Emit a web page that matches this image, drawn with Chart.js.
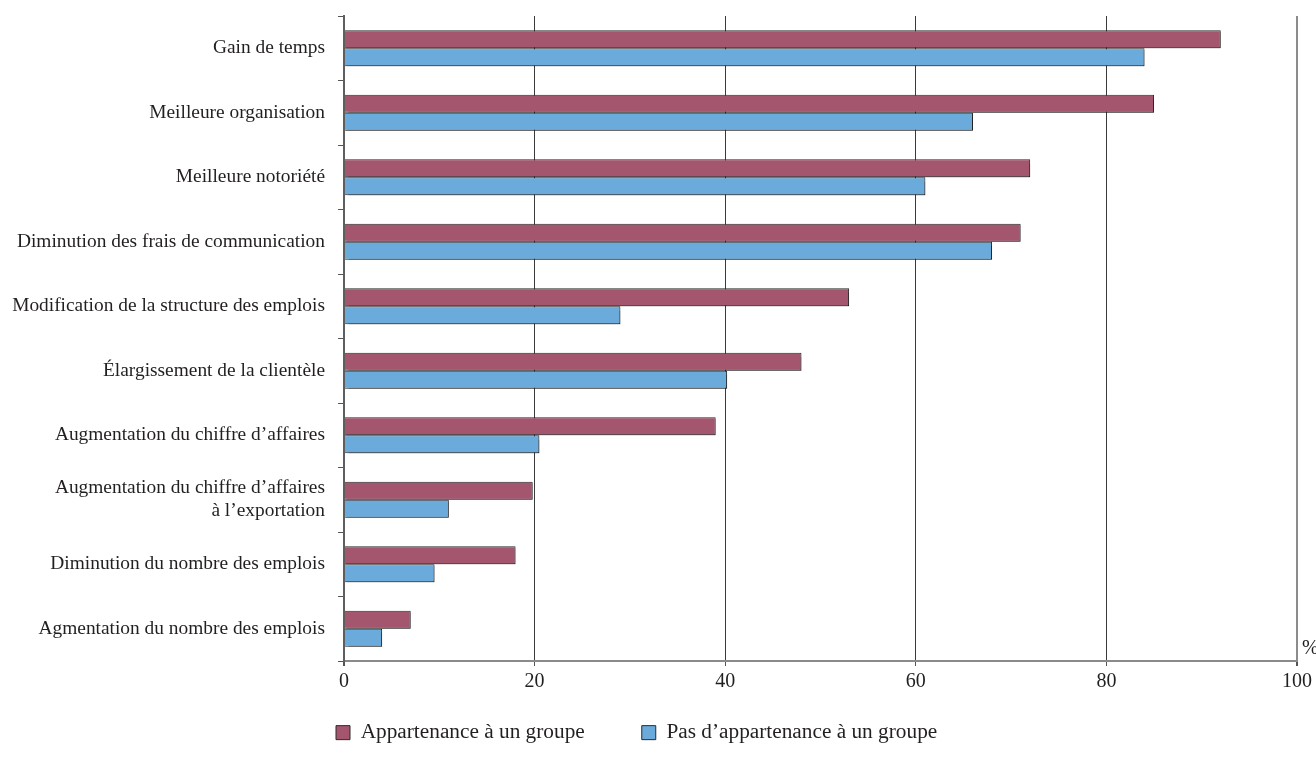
<!DOCTYPE html>
<html>
<head>
<meta charset="utf-8">
<script src="https://cdn.jsdelivr.net/npm/chart.js@4.4.1/dist/chart.umd.min.js"></script>
<style>
  html, body { margin: 0; padding: 0; background: #ffffff; }
  #wrap { width: 1316px; height: 761px; position: relative; }
</style>
</head>
<body>
<div id="wrap"><canvas id="c" width="1316" height="761"></canvas></div>
<script>
// ---- data ----
const categories = [
  'Gain de temps',
  'Meilleure organisation',
  'Meilleure notoriété',
  'Diminution des frais de communication',
  'Modification de la structure des emplois',
  'Élargissement de la clientèle',
  'Augmentation du chiffre d’affaires',
  ['Augmentation du chiffre d’affaires', 'à l’exportation'],
  'Diminution du nombre des emplois',
  'Agmentation du nombre des emplois'
];
const seriesNames = ['Appartenance à un groupe', 'Pas d’appartenance à un groupe'];
const appartenance = [92, 85, 72, 71, 53, 48, 39, 19.8, 18, 7];
const pasAppartenance = [84, 66, 61, 68, 29, 40.2, 20.5, 11, 9.5, 4];
const xTickValues = [0, 20, 40, 60, 80, 100];
const unitLabel = '%';

// ---- styles ----
const FONT = 'Liberation Serif, "Times New Roman", Times, serif';
const TEXT = '#231f20';
const RED = '#a5566f';
const BLUE = '#6aabdb';
const EDGE = '#2a2a2a';

const extras = {
  id: 'extras',
  afterLayout(chart) {
    const lg = chart.legend;
    if (lg) {
      lg.top = 665; lg.bottom = lg.top + 96;
      const w = lg.width;
      lg.left = 279; lg.right = lg.left + w;
    }
  },
  beforeDatasetsDraw(chart) {
    const ctx = chart.ctx;
    ctx.save();
    ctx.shadowColor = 'rgba(0,0,0,0.28)';
    ctx.shadowOffsetX = 1.5;
    ctx.shadowOffsetY = 1.5;
    ctx.shadowBlur = 1;
  },
  afterDatasetsDraw(chart) {
    chart.ctx.restore();
  },
  afterDraw(chart) {
    const ctx = chart.ctx;
    ctx.save();
    ctx.font = '20px ' + FONT;
    ctx.fillStyle = TEXT;
    ctx.textAlign = 'left';
    ctx.textBaseline = 'middle';
    ctx.fillText(unitLabel, chart.chartArea.right + 5, chart.chartArea.bottom - 12);
    ctx.restore();
  }
};

new Chart(document.getElementById('c'), {
  type: 'bar',
  data: {
    labels: categories,
    datasets: [
      { label: seriesNames[0], data: appartenance, backgroundColor: RED, borderColor: EDGE, borderWidth: 1 },
      { label: seriesNames[1], data: pasAppartenance, backgroundColor: BLUE, borderColor: EDGE, borderWidth: 1 }
    ]
  },
  options: {
    indexAxis: 'y',
    responsive: false,
    animation: false,
    devicePixelRatio: 1,
    layout: { padding: { left: 0, right: 18, top: 16, bottom: 23 } },
    datasets: { bar: { categoryPercentage: 0.56, barPercentage: 1.0 } },
    scales: {
      x: {
        min: 0, max: 100,
        afterBuildTicks(scale) { scale.ticks = xTickValues.map(v => ({ value: v })); },
        ticks: { font: { family: FONT, size: 20 }, color: TEXT, padding: 4 },
        grid: {
          color: c => (c.tick && c.tick.value === 100) ? '#8c8c8c' : (c.tick && c.tick.value === 0 ? '#5e5e5e' : '#3a3a3a'),
          lineWidth: c => (c.tick && (c.tick.value === 100 || c.tick.value === 0)) ? 2 : 1,
          tickLength: 5,
          tickColor: '#555'
        },
        border: { color: '#8a8a8a', width: 2 }
      },
      y: {
        afterFit(scale) { scale.width = 344; scale.paddingTop = 0; scale.paddingBottom = 0; },
        ticks: { font: { family: FONT, size: 19.4, lineHeight: 1.2 }, color: TEXT, padding: 13 },
        grid: { offset: true, drawOnChartArea: false, tickLength: 6, color: '#555' },
        border: { color: '#5e5e5e', width: 2 }
      }
    },
    plugins: {
      legend: {
        position: 'bottom',
        align: 'start',
        maxHeight: 40,
        labels: {
          font: { family: FONT, size: 21.3 },
          color: TEXT,
          boxWidth: 14,
          boxHeight: 14,
          padding: 57
        }
      },
      tooltip: { enabled: false }
    }
  },
  plugins: [extras]
});
</script>
</body>
</html>
